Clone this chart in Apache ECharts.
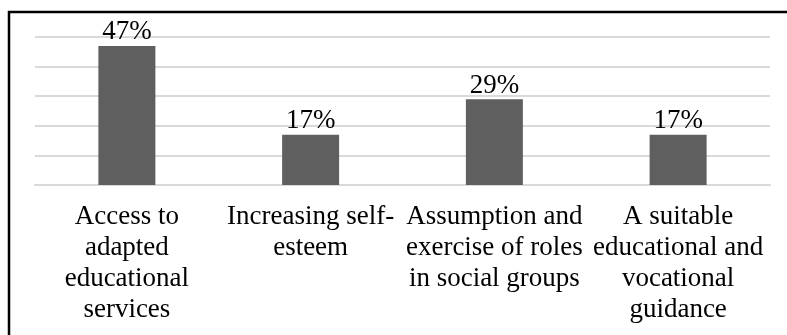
<!DOCTYPE html>
<html>
<head>
<meta charset="utf-8">
<script src="https://cdn.jsdelivr.net/npm/echarts@6/dist/echarts.min.js"></script>
<style>
  html, body { margin: 0; padding: 0; background: #ffffff; }
  #chart { width: 787px; height: 335px; }
</style>
</head>
<body>
<div id="chart"></div>
<script>
// Survey results: share of answers per benefit
const categories = [
  'Access to\nadapted\neducational\nservices',
  'Increasing self-\nesteem',
  'Assumption and\nexercise of roles\nin social groups',
  'A suitable\neducational and\nvocational\nguidance'
];
const shares = [47, 17, 29, 17];
const yTicks = [0, 10, 20, 30, 40, 50];

const serif = 'Liberation Serif';
const chart = echarts.init(document.getElementById('chart'), null, { renderer: 'canvas' });

chart.setOption({
  animation: false,
  backgroundColor: '#ffffff',
  textStyle: { fontFamily: serif },
  grid: { left: 35, right: 17, top: 37, bottom: 150, containLabel: false },
  xAxis: {
    type: 'category',
    data: categories,
    axisLine: { show: true, lineStyle: { color: '#d9d9d9', width: 2 } },
    axisTick: { show: false },
    axisLabel: {
      interval: 0,
      color: '#000000',
      fontFamily: serif,
      fontSize: 27,
      lineHeight: 31,
      margin: 16
    }
  },
  yAxis: {
    type: 'value',
    min: yTicks[0],
    max: yTicks[yTicks.length - 1],
    interval: yTicks[1] - yTicks[0],
    axisLine: { show: false },
    axisTick: { show: false },
    axisLabel: { show: false },
    splitLine: { show: true, lineStyle: { color: '#d9d9d9', width: 2 } }
  },
  series: [{
    type: 'bar',
    data: shares,
    barWidth: 57,
    itemStyle: { color: '#5f5f5f' },
    label: {
      show: true,
      position: 'top',
      distance: 0,
      formatter: p => p.value + '%',
      color: '#000000',
      fontFamily: serif,
      fontSize: 27
    }
  }],
  graphic: [{
    type: 'rect',
    shape: { x: 9, y: 12, width: 800, height: 340 },
    style: { fill: 'none', stroke: '#000000', lineWidth: 2.5 },
    z: 100
  }]
});
</script>
</body>
</html>
